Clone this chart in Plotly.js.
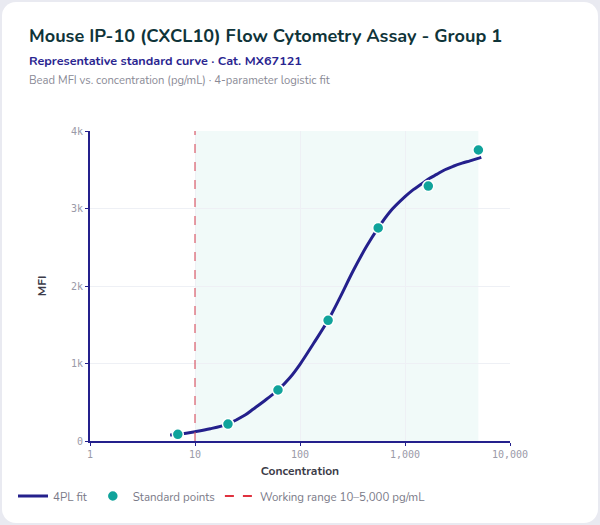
<!DOCTYPE html>
<html>
<head>
<meta charset="utf-8">
<script src="https://cdn.plot.ly/plotly-3.0.1.min.js"></script>
<style>
  html, body { margin: 0; padding: 0; background: #e9eaf1; }
  #wrap { position: relative; width: 600px; height: 525px; background: #e9eaf1; overflow: hidden; }
  #card { position: absolute; left: 2px; top: 2px; width: 596px; height: 521px; background: #ffffff; border-radius: 14px; }
  #chart { position: absolute; left: 0; top: 0; width: 600px; height: 525px; }
</style>
</head>
<body>
<div id="wrap">
  <div id="card"></div>
  <div id="chart"></div>
</div>
<script>
// Standard points (concentration pg/mL, bead MFI)
const stdConc = [6.86, 20.6, 61.7, 185.2, 555.6, 1666.7, 5000];
const stdMFI  = [86, 219, 658, 1557, 2750, 3290, 3755];

// 4PL fit curve
const fitConc = [5.8, 7, 10, 14, 20.6, 30, 36, 45, 61.7, 80, 100, 134, 185, 240, 322, 432, 556, 720, 1000, 1200, 1389, 1700, 2003, 2400, 2884, 3500, 4157, 5330];
const fitMFI  = [77, 88, 120, 158, 222, 335, 413, 510, 658, 816, 990, 1255, 1557, 1850, 2200, 2515, 2750, 2959, 3152, 3243, 3303, 3386, 3440, 3500, 3545, 3585, 3615, 3660];

// Working range
const rangeLow = 10;
const rangeHigh = 5000;

// Axis ticks
const xTickVals = [1, 10, 100, 1000, 10000];
const xTickText = ['1', '10', '100', '1,000', '10,000'];
const yTickVals = [0, 1000, 2000, 3000, 4000];
const yTickText = ['0', '1k', '2k', '3k', '4k'];

const navy = '#24208c';
const teal = '#10a39b';
const red = '#e0323f';
const FONT = 'Nunito, Lato, "Open Sans", sans-serif';

const traces = [
  {
    x: fitConc, y: fitMFI, type: 'scatter', mode: 'lines', name: '4PL fit',
    line: { color: navy, width: 3, shape: 'spline', smoothing: 1 },
    hoverinfo: 'skip'
  },
  {
    x: stdConc, y: stdMFI, type: 'scatter', mode: 'markers', name: 'Standard points',
    marker: { color: teal, size: 11, line: { color: '#ffffff', width: 1.5 } }
  },
  {
    x: [null], y: [null], type: 'scatter', mode: 'lines', name: 'Working range 10–5,000 pg/mL',
    line: { color: red, width: 2, dash: 'dash' }
  }
];

const pxX = v => (v - 90) / 420;
const pxY = v => (441 - v) / 310;

const layout = {
  width: 600, height: 525,
  margin: { l: 90, r: 90, t: 131, b: 84 },
  paper_bgcolor: 'rgba(0,0,0,0)',
  plot_bgcolor: 'rgba(0,0,0,0)',
  font: { family: FONT, color: '#444' },
  showlegend: true,
  legend: {
    orientation: 'h', x: pxX(13), xanchor: 'left', y: pxY(496), yanchor: 'middle',
    font: { family: FONT, size: 11.5, color: '#7a7a88' }, bgcolor: 'rgba(0,0,0,0)',
    itemwidth: 30, tracegroupgap: 0
  },
  xaxis: {
    type: 'log', range: [0, 4],
    tickvals: xTickVals, ticktext: xTickText,
    tickfont: { family: '"DejaVu Sans Mono", monospace', size: 10, color: '#9a9aa8' },
    showgrid: true, gridcolor: '#eef0f5', gridwidth: 1,
    showline: true, linecolor: navy, linewidth: 2,
    ticks: 'outside', ticklen: 3, tickcolor: navy, tickwidth: 1,
    zeroline: false,
    title: { text: 'Concentration', font: { family: FONT, size: 12, color: '#3b3b48', weight: 'bold' }, standoff: 8 }
  },
  yaxis: {
    range: [0, 4000],
    tickvals: yTickVals, ticktext: yTickText,
    tickfont: { family: '"DejaVu Sans Mono", monospace', size: 10, color: '#9a9aa8' },
    showgrid: true, gridcolor: '#eef0f5', gridwidth: 1,
    showline: true, linecolor: navy, linewidth: 2,
    ticks: 'outside', ticklen: 3, tickcolor: navy, tickwidth: 1,
    zeroline: false,
    title: { text: 'MFI', font: { family: FONT, size: 12, color: '#3b3b48', weight: 'bold' }, standoff: 22 }
  },
  shapes: [
    {
      type: 'rect', xref: 'x', yref: 'paper', x0: rangeLow, x1: rangeHigh, y0: 0, y1: 1,
      fillcolor: 'rgba(16,163,155,0.06)', line: { width: 0 }, layer: 'below'
    },
    {
      type: 'line', xref: 'x', yref: 'paper', x0: rangeLow, x1: rangeLow, y0: 0, y1: 1,
      line: { color: 'rgba(214,80,95,0.75)', width: 1.5, dash: 'dash' }, layer: 'above'
    }
  ],
  annotations: [
    {
      xref: 'paper', yref: 'paper', x: pxX(27), y: pxY(36), xanchor: 'left', yanchor: 'middle',
      text: '<b>Mouse IP-10 (CXCL10) Flow Cytometry Assay - Group 1</b>', showarrow: false,
      font: { family: FONT, size: 18.1, color: '#0f3439' }
    },
    {
      xref: 'paper', yref: 'paper', x: pxX(27), y: pxY(60), xanchor: 'left', yanchor: 'middle',
      text: '<b>Representative standard curve · Cat. MX67121</b>', showarrow: false,
      font: { family: FONT, size: 12.6, color: '#2a2590' }
    },
    {
      xref: 'paper', yref: 'paper', x: pxX(27), y: pxY(80), xanchor: 'left', yanchor: 'middle',
      text: 'Bead MFI vs. concentration (pg/mL) · 4-parameter logistic fit', showarrow: false,
      font: { family: FONT, size: 11.25, color: '#8a8a96' }
    }
  ]
};

Plotly.newPlot('chart', traces, layout, { displayModeBar: false, staticPlot: true });
</script>
</body>
</html>
